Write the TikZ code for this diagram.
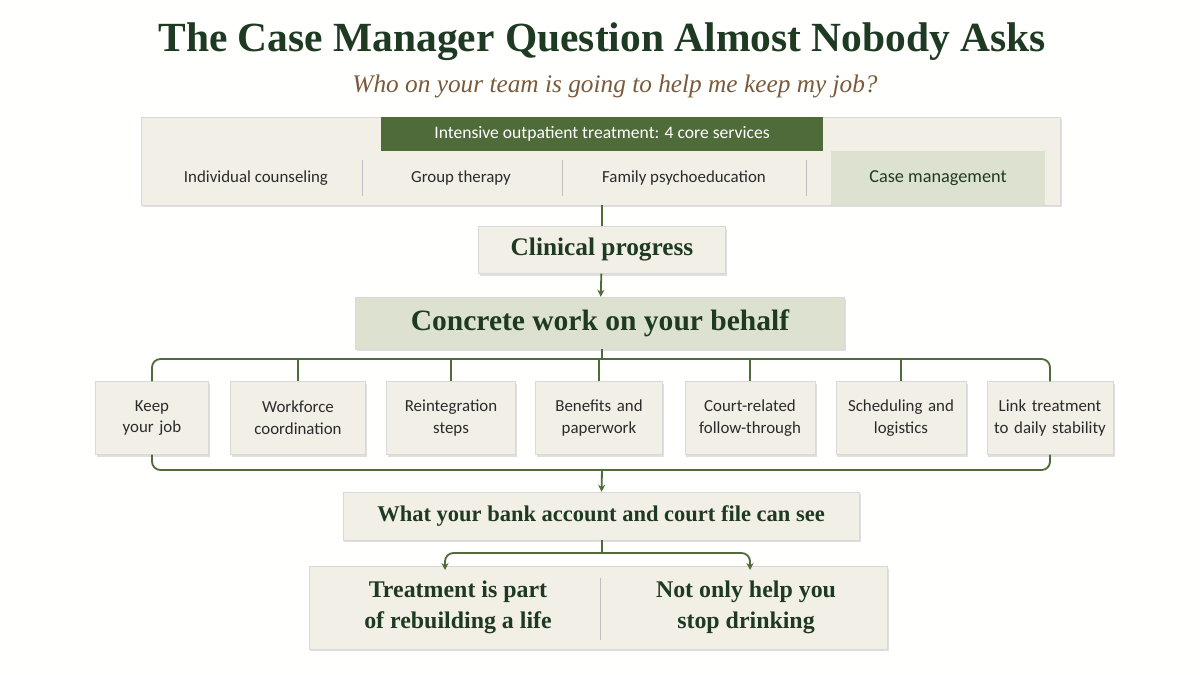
\documentclass[tikz,border=0pt]{standalone}
\usepackage{fontspec}
\setmainfont{Liberation Serif}
\setsansfont{Carlito}
\usetikzlibrary{positioning,shadows,arrows.meta}
\definecolor{leaf}{HTML}{4F6B3A}
\definecolor{sage}{HTML}{DCE2CF}
\definecolor{paper}{HTML}{F2EFE7}
\definecolor{ink}{HTML}{2B2B2B}
\definecolor{pine}{HTML}{1F3A22}
\definecolor{umber}{HTML}{7A5A3C}
\tikzset{
  card/.style={draw=black!15, fill=paper, drop shadow={opacity=0.25,shadow xshift=1pt,shadow yshift=-1.5pt}},
  step/.style={card, minimum width=#1, minimum height=47*0.709pt, font=\fontsize{18}{20}\selectfont\bfseries, text=pine},
  leaf box/.style={card, text width=#1, align=center, minimum height=73*0.709pt, font=\sffamily\fontsize{12}{15.5}\selectfont, text=ink, inner sep=1pt},
  link/.style={draw=leaf, line width=1.3pt, rounded corners=6pt},
  tip/.style={link, -{Stealth[length=5pt,width=5pt]}}
}
\begin{document}
\begin{tikzpicture}[x=0.025cm, y=-0.025cm]
\useasboundingbox[fill=white!97!paper] (0,0) rectangle (1200,675);

% title
\node[font=\fontsize{29.5}{32}\selectfont\bfseries, text=pine] (title) at (602,42) {The Case Manager Question Almost Nobody Asks};
\node[font=\fontsize{18}{20}\selectfont\itshape, text=umber] (sub) at (615,86) {Who on your team is going to help me keep my job?};

% core services panel
\node[card, minimum width=922*0.709pt, minimum height=88*0.709pt] (core) at (601,161) {};
\node[fill=sage, minimum width=215*0.709pt, minimum height=54*0.709pt, font=\sffamily\fontsize{13}{15}\selectfont, text=pine] (cm) at (938,178) {Case management};
\node[fill=leaf, minimum width=443*0.709pt, minimum height=34*0.709pt, font=\sffamily\fontsize{12.5}{15}\selectfont, text=white] (iop) at (602,134) {Intensive outpatient treatment: 4 core services};
\foreach \t/\x in {Individual counseling/256, Group therapy/461, Family psychoeducation/684}
  \node[font=\sffamily\fontsize{12}{14}\selectfont, text=ink] at (\x,178) {\t};
\foreach \x in {362,562,806}
  \draw[black!25] (\x,160) -- (\x,196);

% spine
\node[step=248*0.709pt] (clin) at (602,250) {Clinical progress};
\node[card, fill=sage, minimum width=490*0.709pt, minimum height=52*0.709pt, font=\fontsize{21}{24}\selectfont\bfseries, text=pine] (work) at (600,323) {Concrete work on your behalf};
\draw[link] (core.south -| clin.north) -- (clin.north);
\draw[tip] (clin) -- (work);

% tasks
\foreach \n/\x/\w/\t in {
  job/152/111/{Keep\\your job},
  wf/298/133/{Workforce\\coordination},
  re/451/127/{Reintegration\\steps},
  ben/599/125/{Benefits and\\paperwork},
  court/750/128/{Court-related\\follow-through},
  sch/901/128/{Scheduling and\\logistics},
  lnk/1050/124/{Link treatment\\to daily stability}}
  \node[leaf box=\w*0.709pt] (\n) at (\x,418) {\t};
\coordinate (fork) at (602,359);
\draw[link] (work.south -| fork) -- (fork);
\draw[link] (job.north) |- (fork) -| (lnk.north);
\foreach \n in {wf,re,ben,court,sch}
  \draw[link] (\n.north) -- (\n.north |- fork);
\coordinate (join) at (602,470);
\draw[link] (job.south) |- (join) -| (lnk.south);

% outcome
\node[step=518*0.709pt, minimum height=48*0.709pt, font=\fontsize{16}{18}\selectfont\bfseries] (bank) at (601,516) {What your bank account and court file can see};
\draw[tip] (join) -- (bank);
\node[card, minimum width=580*0.709pt, minimum height=83*0.709pt] (end) at (598,608) {};
\draw[black!25] (600,578) -- (600,640);
\node[font=\fontsize{17}{22}\selectfont\bfseries, text=pine, align=center] (life) at (458,607) {Treatment is part\\of rebuilding a life};
\node[font=\fontsize{17}{22}\selectfont\bfseries, text=pine, align=center] (stop) at (746,607) {Not only help you\\stop drinking};
\coordinate (split) at (602,553);
\draw[link] (bank.south -| split) -- (split);
\coordinate (lifetop) at (445,570);
\coordinate (stoptop) at (750,570);
\draw[tip] (split) -| (lifetop);
\draw[tip] (split) -| (stoptop);
\end{tikzpicture}
\end{document}
